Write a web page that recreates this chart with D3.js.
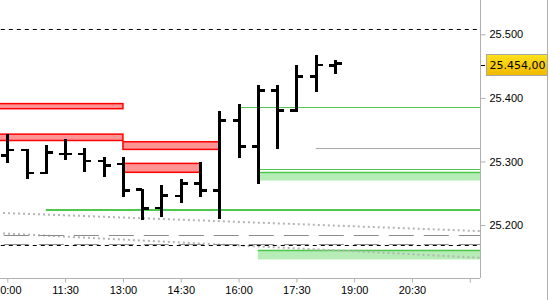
<!DOCTYPE html>
<html lang="en">
<head>
  <meta charset="UTF-8" />
  <title>Intraday OHLC</title>
  <script src="https://cdn.jsdelivr.net/npm/d3@7"></script>
  <style>
    body { margin: 0; background: #fff; }
    svg { display: block; font-family: "DejaVu Sans", sans-serif; }
    .axis text { font-size: 11px; fill: #000; }
    .axis line, .axis path { stroke: #b0b0b0; }
  </style>
</head>
<body>
<svg width="550" height="300"></svg>

<script>
  // 30 minute bars, values in index points
  const barTimes = ["10:00","10:30","11:00","11:30","12:00","12:30","13:00","13:30","14:00",
                    "14:30","15:00","15:30","16:00","16:30","17:00","17:30","18:00","18:30"];
  const opens  = [25310,25318,25282,25312,25312,25301,25296,25256,25227,25246,25265,25255,25365,25324,25412,25380,25434,25451];
  const highs  = [25343,25320,25326,25335,25321,25307,25307,25256,25263,25272,25299,25380,25390,25420,25420,25452,25467,25460];
  const lows   = [25297,25272,25281,25303,25284,25276,25244,25208,25212,25234,25244,25209,25306,25265,25320,25378,25410,25438];
  const closes = [25318,25282,25314,25312,25301,25294,25255,25226,25247,25265,25254,25365,25324,25412,25380,25434,25452,25454];

  const lastPrice = 25454;

  // boxes: [from, to, low, high]
  const redZones   = [["09:00","13:00",25383,25391], ["09:00","13:00",25333,25343],
                      ["13:00","15:30",25319,25331], ["13:00","15:00",25283,25297]];
  const greenZones = [["16:30","22:30",25270,25283], ["16:30","22:30",25146,25161]];

  // horizontal levels: [from, to, value]
  const greenLines     = [["11:00","22:30",25224], ["16:00","22:30",25385], ["16:30","22:30",25288]];
  const grayLines      = [["18:00","22:30",25321]];
  const longDashLines  = [["09:00","22:30",25185], ["09:00","22:30",25170]];
  const blackDashLines = [["09:00","22:15",25509], ["09:00","22:15",25169]];

  // sloped dotted trend lines: [from, to, value at from, value at to]
  const trendLines = [["09:30","22:30",25220,25190], ["09:30","22:30",25188,25148]];

  const yTicks = [25200, 25300, 25400, 25500];
  const xTicks = ["10:00","11:30","13:00","14:30","16:00","17:30","19:00","20:30","22:00"];

  const t = s => { const [h, m] = s.split(":").map(Number); return new Date(2025, 0, 6, h, m, 0); };

  const svg = d3.select("svg");
  const plotW = 480, plotH = 278;

  const x = d3.scaleTime()
    .domain([new Date(2025, 0, 6, 9, 48, 36), new Date(2025, 0, 6, 22, 15, 54)])
    .range([0, plotW]);
  const y = d3.scaleLinear().domain([25116.8, 25553.9]).range([plotH, 0]);

  const loc = d3.formatLocale({ decimal: ",", thousands: ".", grouping: [3], currency: ["", ""] });
  const fmtTick = loc.format(",.0f");
  const fmtPrice = loc.format(",.2f");

  svg.append("clipPath").attr("id", "plot")
    .append("rect").attr("width", plotW).attr("height", plotH);

  const g = svg.append("g").attr("clip-path", "url(#plot)");

  // zones
  g.selectAll(".red").data(redZones).join("rect")
    .attr("x", d => x(t(d[0])))
    .attr("y", d => y(d[3]))
    .attr("width", d => x(t(d[1])) - x(t(d[0])))
    .attr("height", d => y(d[2]) - y(d[3]))
    .attr("fill", "#ff9494").attr("stroke", "#ff0000").attr("stroke-width", 1.5);

  g.selectAll(".green").data(greenZones).join("rect")
    .attr("x", d => x(t(d[0])))
    .attr("y", d => y(d[3]))
    .attr("width", d => x(t(d[1])) - x(t(d[0])))
    .attr("height", d => y(d[2]) - y(d[3]))
    .attr("fill", "#b6ecb6");

  function hline(data, stroke, width, dash) {
    g.append("g").selectAll("line").data(data).join("line")
      .attr("x1", d => x(t(d[0]))).attr("x2", d => x(t(d[1])))
      .attr("y1", d => Math.round(y(d[2])) + (width % 2 ? 0.5 : 0))
      .attr("y2", d => Math.round(y(d[2])) + (width % 2 ? 0.5 : 0))
      .attr("stroke", stroke).attr("stroke-width", width)
      .attr("stroke-dasharray", dash);
  }

  // green zone top borders
  hline(greenZones.map(d => [d[0], d[1], d[3]]), "#50c850", 1.5, null);

  g.append("g").selectAll("line").data(trendLines).join("line")
    .attr("x1", d => x(t(d[0]))).attr("x2", d => x(t(d[1])))
    .attr("y1", d => y(d[2])).attr("y2", d => y(d[3]))
    .attr("stroke", "#b4b4b4").attr("stroke-width", 2).attr("stroke-dasharray", "2,3");

  hline(longDashLines, "#8c8c8c", 1, "25,10");
  hline(blackDashLines, "#000", 1, "4,4");
  hline(grayLines, "#a8a8a8", 1, null);
  hline(greenLines.slice(0, 1), "#4ec94e", 2, null);
  hline(greenLines.slice(1), "#50c850", 1, null);

  // OHLC bars
  const bars = barTimes.map((s, i) => ({ t: t(s), o: opens[i], h: highs[i], l: lows[i], c: closes[i] }));
  const bg = g.append("g").attr("fill", "#000").attr("shape-rendering", "crispEdges");
  bars.forEach(b => {
    const cx = Math.round(x(b.t));
    bg.append("rect").attr("x", cx - 1).attr("y", y(b.h)).attr("width", 3).attr("height", y(b.l) - y(b.h));
    bg.append("rect").attr("x", cx - 6).attr("y", y(b.o) - 1.3).attr("width", 6).attr("height", 2.7);
    bg.append("rect").attr("x", cx + 1).attr("y", y(b.c) - 1.3).attr("width", 6).attr("height", 2.7);
  });

  // axes
  const yAxis = svg.append("g").attr("class", "axis")
    .attr("transform", `translate(${plotW + 0.5},0)`)
    .call(d3.axisRight(y).tickValues(yTicks).tickFormat(fmtTick).tickSize(5).tickPadding(4).tickSizeOuter(0));
  yAxis.select(".domain").attr("d", `M0,0V${plotH}`);

  const xAxis = svg.append("g").attr("class", "axis")
    .attr("transform", `translate(0,${plotH + 0.5})`)
    .call(d3.axisBottom(x).tickValues(xTicks.map(t))
      .tickFormat(d => d.getHours() >= 22 ? "" : d3.timeFormat("%H:%M")(d))
      .tickSize(4).tickPadding(4).tickSizeOuter(0));
  xAxis.select(".domain").attr("d", `M0,0H${plotW}`);

  // right border of price panel
  svg.append("line").attr("x1", 547.5).attr("x2", 547.5).attr("y1", 0).attr("y2", 300)
    .attr("stroke", "#b0b0b0");

  // last price marker
  const defs = svg.append("defs");
  const grad = defs.append("linearGradient").attr("id", "gold").attr("x1", 0).attr("y1", 0).attr("x2", 0).attr("y2", 1);
  grad.append("stop").attr("offset", 0).attr("stop-color", "#ffe21a");
  grad.append("stop").attr("offset", 1).attr("stop-color", "#f2b800");

  const py = y(lastPrice) + 1.5;
  svg.append("line").attr("x1", plotW + 1).attr("x2", plotW + 5)
    .attr("y1", Math.round(py) + 0.5).attr("y2", Math.round(py) + 0.5).attr("stroke", "#000");
  svg.append("rect").attr("x", 486.5).attr("y", Math.round(py) - 10.5).attr("width", 61).attr("height", 21)
    .attr("fill", "url(#gold)").attr("stroke", "#a8a8a8");
  svg.append("text").attr("x", 489.5).attr("y", py).attr("dy", "0.35em")
    .attr("font-size", 11).attr("fill", "#000").text(fmtPrice(lastPrice));
</script>
</body>
</html>
